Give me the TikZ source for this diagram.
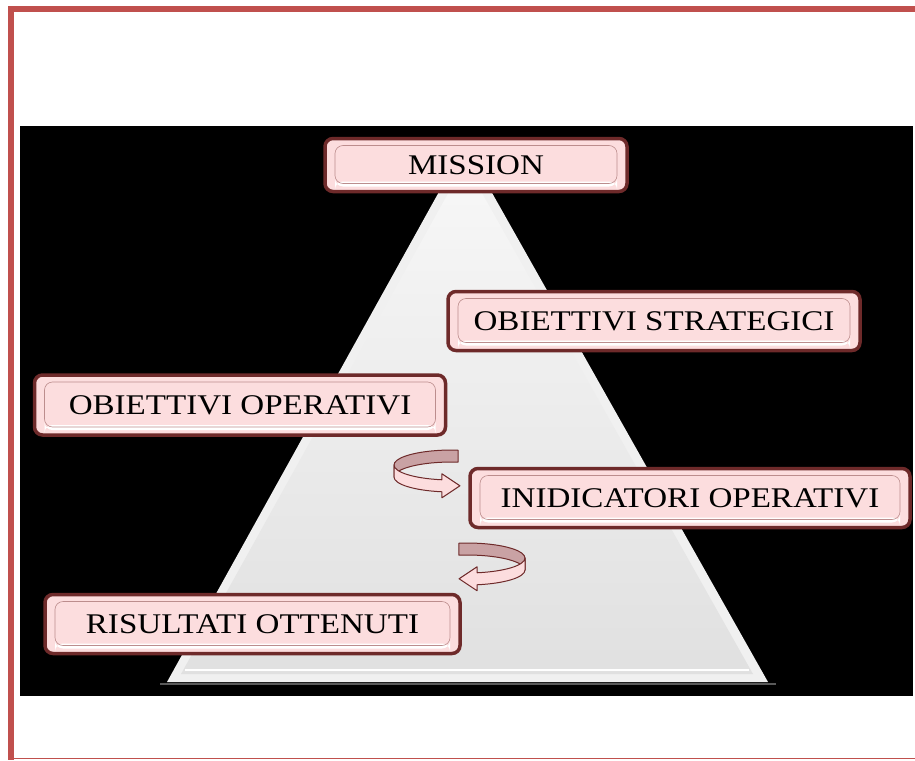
\documentclass[tikz,border=0pt]{standalone}
\usepackage{fontspec}
\setmainfont{Liberation Serif}[FakeStretch=1.16]

\definecolor{frame}{HTML}{C0504D}
\definecolor{maroon}{HTML}{6E2A2A}
\definecolor{blush}{HTML}{FCDDDE}
\definecolor{mauve}{HTML}{C9A2A4}

\tikzset{
  tag/.style={draw=maroon, line width=3.5pt, fill=blush, rounded corners=8pt,
    inner sep=0pt, font=\fontsize{28.5}{34}\selectfont,
    path picture={
      \fill[white] ([xshift=10pt,yshift=5pt]path picture bounding box.south west)
        rectangle ([xshift=-10pt,yshift=10pt]path picture bounding box.south east);
      \draw[blush!55!maroon, line width=0.6pt]
        ([xshift=10pt,yshift=-7pt]path picture bounding box.north west)
        rectangle ([xshift=-10pt,yshift=8pt]path picture bounding box.south east);
    }},
  ribbon/.style={draw=maroon, line width=1pt, line join=round},
  turn/.style={x radius=58, y radius=15}
}

\begin{document}
\begin{tikzpicture}[x=1pt, y=-1pt]
\useasboundingbox (0,0) rectangle (915,760);
% frame and background
\draw[frame, line width=6pt] (8,9.5) -- (915,9.5);
\draw[frame, line width=6pt] (11,7) -- (11,760);
\draw[frame, line width=1.5pt] (14,758.5) -- (915,758.5);
\fill[black] (20,126) rectangle (913,696);

% pyramid
\draw[gray!70!black, line width=2pt] (160,684) -- (776,684);
\fill[gray!12] (465,145) -- (167,682) -- (768,682) -- cycle;
\shade[top color=gray!6, bottom color=gray!24] (465,163) -- (181,674) -- (753,674) -- cycle;
\draw[white, line width=1.5pt] (185,670) -- (749,670);

% turning arrows
\filldraw[ribbon, fill=mauve] (458.06,450.08) arc[start angle=276, end angle=180, turn]
  -- ++(0,12) arc[start angle=180, end angle=276, turn] -- cycle;
\filldraw[ribbon, fill=blush] (394,465) arc[start angle=180, end angle=100, turn]
  -- ++(0,-6) -- ++(18,12) -- ++(-18,12) -- ++(0,-6)
  arc[start angle=100, end angle=180, turn] -- cycle;

\filldraw[ribbon, fill=mauve] (458.93,543.15) arc[start angle=262, end angle=360, turn]
  -- ++(0,12) arc[start angle=360, end angle=262, turn] -- cycle;
\filldraw[ribbon, fill=blush] (525,558) arc[start angle=0, end angle=80, turn]
  -- ++(0,-6) -- ++(-18,12) -- ++(18,12) -- ++(0,-6)
  arc[start angle=80, end angle=0, turn] -- cycle;

% labels
\node[tag, minimum width=302pt, minimum height=53pt] (mission) at (476,165) {MISSION};
\node[tag, minimum width=412pt, minimum height=59pt] (strategici) at (654,321) {OBIETTIVI STRATEGICI};
\node[tag, minimum width=411pt, minimum height=60pt] (operativi) at (240,405) {OBIETTIVI OPERATIVI};
\node[tag, minimum width=440pt, minimum height=59pt] (indicatori) at (690,498) {INIDICATORI OPERATIVI};
\node[tag, minimum width=415pt, minimum height=59pt] (risultati) at (252.5,624) {RISULTATI OTTENUTI};
\end{tikzpicture}
\end{document}
